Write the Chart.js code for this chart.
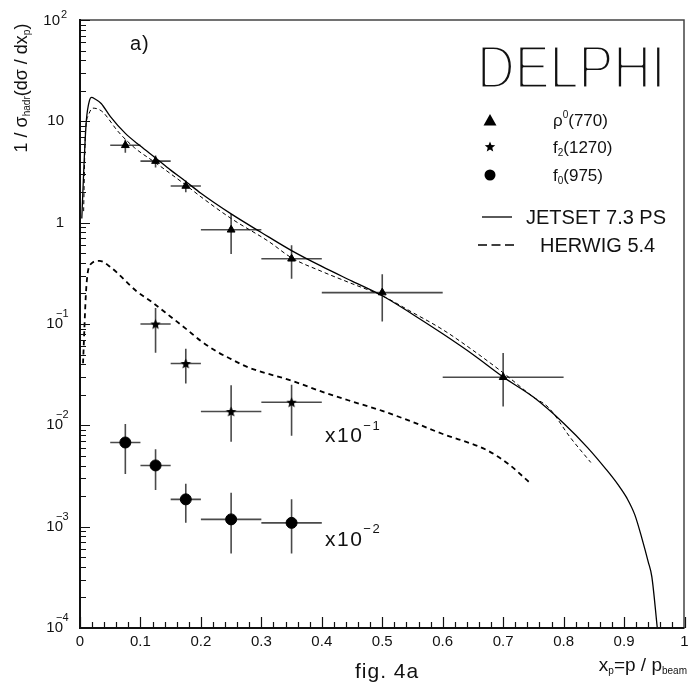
<!DOCTYPE html>
<html>
<head>
<meta charset="utf-8">
<script src="https://cdn.jsdelivr.net/npm/chart.js@4.4.1/dist/chart.umd.min.js"></script>
<style>
  html, body { margin: 0; padding: 0; background: #fff; }
  #wrap { width: 691px; height: 689px; position: relative; }
</style>
</head>
<body>
<div id="wrap"><canvas id="c"></canvas></div>
<script>
// --- data (DELPHI) ---
// rho0(770)
const rhoX = [0.075, 0.125, 0.175, 0.25, 0.35, 0.5, 0.7];
const rhoY = [5.8, 4.05, 2.3, 0.85, 0.44, 0.204, 0.0298];
const rhoXErr = [0.025, 0.025, 0.025, 0.05, 0.05, 0.1, 0.1];
const rhoYLo = [4.9, 3.5, 2.0, 0.49, 0.28, 0.106, 0.0153];
const rhoYHi = [6.6, 4.6, 2.6, 1.22, 0.6, 0.31, 0.0517];

// f2(1270), x10^-1
const f2X = [0.125, 0.175, 0.25, 0.35];
const f2Y = [0.1, 0.0408, 0.0137, 0.0169];
const f2XErr = [0.025, 0.025, 0.05, 0.05];
const f2YLo = [0.052, 0.0259, 0.0069, 0.0079];
const f2YHi = [0.1437, 0.0569, 0.0248, 0.0251];

// f0(975), x10^-2
const f0X = [0.075, 0.125, 0.175, 0.25, 0.35];
const f0Y = [0.00677, 0.00402, 0.00186, 0.00118, 0.00109];
const f0XErr = [0.025, 0.025, 0.025, 0.05, 0.05];
const f0YLo = [0.0033, 0.0023, 0.00109, 0.000543, 0.000543];
const f0YHi = [0.0103, 0.0058, 0.00265, 0.00216, 0.00186];

// JETSET 7.3 PS (rho0)
const jetX = [0.003, 0.0066, 0.0104, 0.016, 0.019, 0.025, 0.035, 0.05, 0.075, 0.1, 0.125, 0.15, 0.175, 0.2, 0.25, 0.3, 0.35, 0.4, 0.45, 0.5, 0.55, 0.6, 0.65, 0.7, 0.75, 0.8, 0.84, 0.87, 0.89, 0.905, 0.918, 0.93, 0.94, 0.946, 0.955, 0.962];
const jetY = [1.1, 3.75, 10, 16.3, 17.2, 16.6, 15, 11.2, 7.6, 5.7, 4.35, 3.3, 2.55, 1.95, 1.22, 0.8, 0.53, 0.37, 0.265, 0.19, 0.125, 0.08, 0.05, 0.03, 0.019, 0.0105, 0.006, 0.0037, 0.0026, 0.0019, 0.0013, 0.00075, 0.00045, 0.00032, 0.0001, 0.00004];

// HERWIG 5.4 (rho0)
const hwX = [0.006, 0.0088, 0.014, 0.021, 0.03, 0.038, 0.0625, 0.09, 0.125, 0.175, 0.2, 0.25, 0.3125, 0.35, 0.4, 0.45, 0.5, 0.55, 0.6, 0.65, 0.7, 0.75, 0.775, 0.811, 0.845];
const hwY = [1.3, 7.4, 11.5, 13.5, 13.2, 12.3, 8.0, 5.5, 3.9, 2.35, 1.8, 1.1, 0.65, 0.45, 0.33, 0.25, 0.19, 0.13, 0.088, 0.055, 0.033, 0.019, 0.015, 0.0076, 0.0043];

// HERWIG 5.4 (f2, x10^-1)
const hlX = [0.005, 0.0104, 0.0186, 0.032, 0.0515, 0.093, 0.12, 0.15, 0.175, 0.2, 0.225, 0.25, 0.28, 0.35, 0.4, 0.45, 0.5, 0.55, 0.598, 0.674, 0.71, 0.743];
const hlY = [0.041, 0.229, 0.394, 0.42, 0.36, 0.212, 0.163, 0.118, 0.09, 0.068, 0.054, 0.045, 0.037, 0.0276, 0.0215, 0.0172, 0.0139, 0.0108, 0.0083, 0.00565, 0.0041, 0.00275];

// axis ticks
const yDecades = [-4, -3, -2, -1, 0, 1, 2];
const xLabels = ['0', '0.1', '0.2', '0.3', '0.4', '0.5', '0.6', '0.7', '0.8', '0.9', '1'];

const F = '"Liberation Sans", Arial, sans-serif';
const INK = '#111';

const pts = (xs, ys) => xs.map((x, i) => ({ x, y: ys[i] }));

function starPath(g, cx, cy, ro, ri) {
  g.beginPath();
  for (let i = 0; i < 10; i++) {
    const a = -Math.PI / 2 + i * Math.PI / 5;
    const r = i % 2 ? ri : ro;
    g.lineTo(cx + Math.cos(a) * r, cy + Math.sin(a) * r);
  }
  g.closePath();
}

function makeStar(r) {
  const c = document.createElement('canvas');
  const s = Math.ceil(r * 2 + 2);
  c.width = s; c.height = s;
  const g = c.getContext('2d');
  starPath(g, s / 2, s / 2 + 0.5, r, r * 0.45);
  g.fillStyle = '#000';
  g.fill();
  return c;
}

// text runs: [text, size, dy]
function runsWidth(ctx, parts) {
  let w = 0;
  parts.forEach(([s, size]) => { ctx.font = `${size}px ${F}`; w += ctx.measureText(s).width; });
  return w;
}
function runs(ctx, parts, x, y) {
  ctx.textAlign = 'left';
  ctx.textBaseline = 'middle';
  parts.forEach(([s, size, dy]) => {
    ctx.font = `${size}px ${F}`;
    ctx.fillText(s, x, y + (dy || 0));
    x += ctx.measureText(s).width;
  });
  return x;
}

const errorBars = {
  id: 'errorBars',
  beforeDatasetsDraw(chart) {
    const ctx = chart.ctx, xs = chart.scales.x, ys = chart.scales.y;
    const sets = [
      [rhoX, rhoY, rhoXErr, rhoYLo, rhoYHi],
      [f2X, f2Y, f2XErr, f2YLo, f2YHi],
      [f0X, f0Y, f0XErr, f0YLo, f0YHi]
    ];
    ctx.save();
    ctx.strokeStyle = '#4a4a4a';
    ctx.lineWidth = 1.6;
    sets.forEach(([X, Y, XE, YL, YH]) => {
      X.forEach((x, i) => {
        const px = xs.getPixelForValue(x), py = ys.getPixelForValue(Y[i]);
        ctx.beginPath();
        ctx.moveTo(xs.getPixelForValue(x - XE[i]), py);
        ctx.lineTo(xs.getPixelForValue(x + XE[i]), py);
        ctx.moveTo(px, ys.getPixelForValue(YL[i]));
        ctx.lineTo(px, ys.getPixelForValue(YH[i]));
        ctx.stroke();
      });
    });
    ctx.restore();
  }
};

const frame = {
  id: 'frame',
  afterDraw(chart) {
    const ctx = chart.ctx, xs = chart.scales.x, ys = chart.scales.y;
    const { left, right, top, bottom } = chart.chartArea;
    ctx.save();

    // box
    ctx.strokeStyle = '#444';
    ctx.lineWidth = 1.5;
    ctx.beginPath();
    ctx.moveTo(left, top); ctx.lineTo(right - 0.5, top); ctx.lineTo(right - 0.5, bottom);
    ctx.stroke();
    ctx.strokeStyle = INK;
    ctx.lineWidth = 2;
    ctx.beginPath();
    ctx.moveTo(left, top - 1); ctx.lineTo(left, bottom); ctx.lineTo(right, bottom);
    ctx.stroke();

    // y ticks (inside)
    ctx.lineWidth = 1.2;
    ctx.beginPath();
    yDecades.forEach(e => {
      const kmax = e === 2 ? 1 : 9;
      for (let k = 1; k <= kmax; k++) {
        const py = Math.round(ys.getPixelForValue(k * Math.pow(10, e))) + 0.5;
        ctx.moveTo(left, py);
        ctx.lineTo(left + (k === 1 ? 10 : 6), py);
      }
    });
    // x ticks (inside)
    for (let i = 0; i <= 50; i++) {
      const px = Math.round(xs.getPixelForValue(i * 0.02)) + 0.5;
      ctx.moveTo(px, bottom);
      ctx.lineTo(px, bottom - (i % 5 === 0 ? 11 : 6));
    }
    ctx.stroke();

    ctx.fillStyle = INK;
    // y labels
    yDecades.forEach(e => {
      const py = ys.getPixelForValue(Math.pow(10, e));
      ctx.textBaseline = 'middle';
      ctx.font = `15px ${F}`;
      if (e === 0 || e === 1) {
        ctx.textAlign = 'right';
        ctx.fillText(e === 0 ? '1' : '10', 64, py);
      } else if (e > 0) {
        ctx.textAlign = 'right';
        ctx.fillText('10', 60, py + 1);
        ctx.font = `11px ${F}`;
        ctx.textAlign = 'left';
        ctx.fillText(String(e), 61, py - 5);
      } else {
        ctx.textAlign = 'right';
        ctx.fillText('10', 63, py);
        ctx.font = `11px ${F}`;
        ctx.textAlign = 'left';
        ctx.fillText('\u2212' + (-e), 56, py - 10);
      }
    });
    // x labels
    ctx.font = `15px ${F}`;
    ctx.textAlign = 'center';
    ctx.textBaseline = 'middle';
    xLabels.forEach(s => ctx.fillText(s, xs.getPixelForValue(parseFloat(s)), 642));

    // axis titles
    const yt = [['1 / \u03c3', 18], ['hadr', 10, 5], ['(d\u03c3 / dx', 18], ['p', 10, 5], [')', 18]];
    ctx.save();
    ctx.translate(22, 88);
    ctx.rotate(-Math.PI / 2);
    runs(ctx, yt, -runsWidth(ctx, yt) / 2, 0);
    ctx.restore();

    const xt = [['x', 19], ['p', 10, 5], ['=p / p', 19], ['beam', 10, 5]];
    runs(ctx, xt, 687 - runsWidth(ctx, xt), 666);

    ctx.letterSpacing = '1px';
    ctx.font = `21px ${F}`;
    ctx.textAlign = 'left';
    ctx.fillText('fig. 4a', 355, 672);

    // panel label
    ctx.font = `20px ${F}`;
    ctx.fillText('a)', 130, 44);

    // scale factors
    ctx.letterSpacing = '1.5px';
    let end = runs(ctx, [['x10', 21]], 325, 436);
    ctx.font = `13px ${F}`;
    ctx.fillText('\u22121', end, 426);
    end = runs(ctx, [['x10', 21]], 325, 540);
    ctx.font = `13px ${F}`;
    ctx.fillText('\u22122', end, 529);
    ctx.letterSpacing = '0px';

    // DELPHI in a thin stroke: fill, then erode with a white outline
    ctx.save();
    ctx.translate(477, 71);
    ctx.scale(0.9, 1.05);
    ctx.font = `58px ${F}`;
    ctx.textBaseline = 'middle';
    ctx.fillText('DELPHI', 0, 0);
    ctx.strokeStyle = '#fff';
    ctx.lineWidth = 2.8;
    ctx.lineJoin = 'round';
    ctx.strokeText('DELPHI', 0, 0);
    ctx.restore();

    // legend markers
    ctx.fillStyle = '#000';
    ctx.beginPath();
    ctx.moveTo(490, 114); ctx.lineTo(496.5, 125.5); ctx.lineTo(483.5, 125.5); ctx.closePath();
    ctx.fill();
    starPath(ctx, 490, 147, 5.5, 2.4);
    ctx.fill();
    ctx.beginPath();
    ctx.arc(490, 175, 5.5, 0, Math.PI * 2);
    ctx.fill();

    ctx.fillStyle = INK;
    runs(ctx, [['\u03c1', 17], ['0', 10, -6], ['(770)', 17]], 553, 121);
    runs(ctx, [['f', 17], ['2', 10, 5], ['(1270)', 17]], 553, 148);
    runs(ctx, [['f', 17], ['0', 10, 5], ['(975)', 17]], 553, 176);

    ctx.strokeStyle = '#000';
    ctx.lineWidth = 1.3;
    ctx.beginPath();
    ctx.moveTo(482, 217); ctx.lineTo(512, 217);
    ctx.stroke();
    ctx.setLineDash([9, 4.5]);
    ctx.beginPath();
    ctx.moveTo(478, 245); ctx.lineTo(514, 245);
    ctx.stroke();
    ctx.setLineDash([]);

    runs(ctx, [['JETSET 7.3 PS', 20]], 526, 218);
    runs(ctx, [['HERWIG 5.4', 20]], 540, 246);

    ctx.restore();
  }
};

const curve = (data, width, dash) => ({
  type: 'line',
  data,
  borderColor: '#000',
  borderWidth: width,
  borderDash: dash,
  pointRadius: 0,
  fill: false,
  cubicInterpolationMode: 'monotone'
});

const marks = (data, style, radius) => ({
  type: 'line',
  data,
  showLine: false,
  pointStyle: style,
  pointRadius: radius,
  backgroundColor: '#000',
  borderColor: '#000',
  borderWidth: 1
});

new Chart(document.getElementById('c'), {
  type: 'line',
  data: {
    datasets: [
      curve(pts(jetX, jetY), 1.3, []),
      curve(pts(hwX, hwY), 1, [4, 3]),
      curve(pts(hlX, hlY), 1.8, [5, 4]),
      marks(pts(rhoX, rhoY), 'triangle', 4.5),
      marks(pts(f2X, f2Y), makeStar(5.5), 5.5),
      marks(pts(f0X, f0Y), 'circle', 5.5)
    ]
  },
  options: {
    responsive: true,
    maintainAspectRatio: false,
    animation: false,
    events: [],
    layout: { padding: { left: 80, right: 3, top: 20, bottom: 61 } },
    plugins: { legend: { display: false }, tooltip: { enabled: false } },
    scales: {
      x: { type: 'linear', min: 0, max: 1, display: false },
      y: { type: 'logarithmic', min: 1e-4, max: 100, display: false }
    }
  },
  plugins: [errorBars, frame]
});
</script>
</body>
</html>
